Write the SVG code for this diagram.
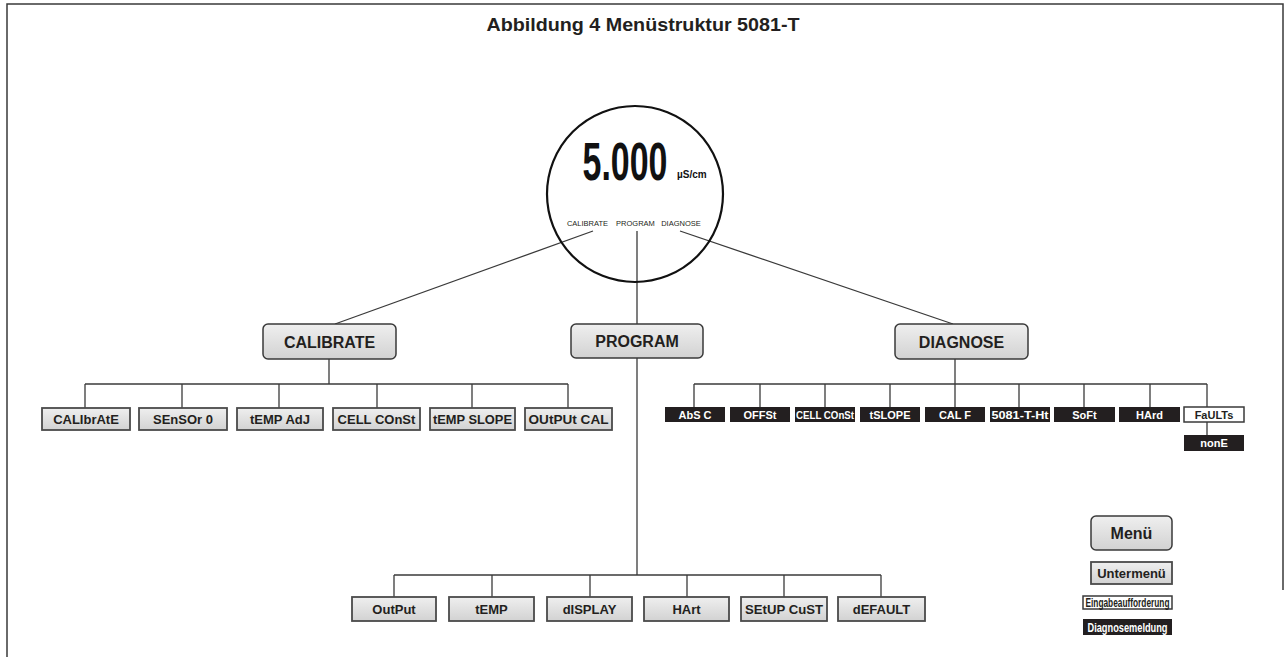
<svg xmlns="http://www.w3.org/2000/svg" width="1287" height="657" viewBox="0 0 1287 657">
<defs>
<linearGradient id="g" x1="0" y1="0" x2="0" y2="1">
<stop offset="0" stop-color="#efefef"/>
<stop offset="1" stop-color="#d2d2d2"/>
</linearGradient>
<style>
text{font-family:"Liberation Sans",Arial,sans-serif;font-weight:bold;fill:#231f20;text-anchor:middle}
.menu{fill:url(#g);stroke:#3a3a3a;stroke-width:1.5}
.mt{font-size:16px}
.sub{fill:url(#g);stroke:#4a4a4a;stroke-width:1.8}
.st{font-size:13px}
.dg{fill:#231f20;stroke:none}
.dt{font-size:11px;fill:#fff}
.pr{fill:#fff;stroke:#3a3a3a;stroke-width:1.5}
.pt{font-size:11px}
.ln{stroke:#3a3a3a;stroke-width:1.3;fill:none}
</style>
</defs>
<rect width="1287" height="657" fill="#fff"/>
<g id="frame" stroke="#3a3a3a" stroke-width="1.5" fill="none">
<path d="M7,657 V4 H1283 V590"/>
</g>
<text x="643" y="31" style="font-size:19px" textLength="313" lengthAdjust="spacingAndGlyphs">Abbildung 4 Menüstruktur 5081-T</text>

<g id="connectors" class="ln">
<line x1="593" y1="231" x2="335" y2="324"/>
<line x1="637" y1="231" x2="637" y2="324"/>
<line x1="680" y1="231" x2="953" y2="324"/>
<line x1="329" y1="359" x2="329" y2="384"/>
<line x1="85" y1="384" x2="568" y2="384"/>
<line x1="85" y1="384" x2="85" y2="408"/>
<line x1="182" y1="384" x2="182" y2="408"/>
<line x1="279" y1="384" x2="279" y2="408"/>
<line x1="377" y1="384" x2="377" y2="408"/>
<line x1="472" y1="384" x2="472" y2="408"/>
<line x1="568" y1="384" x2="568" y2="408"/>
<line x1="955" y1="359" x2="955" y2="384"/>
<line x1="694" y1="384" x2="1207" y2="384"/>
<line x1="694" y1="384" x2="694" y2="407"/>
<line x1="760" y1="384" x2="760" y2="407"/>
<line x1="825" y1="384" x2="825" y2="407"/>
<line x1="890" y1="384" x2="890" y2="407"/>
<line x1="955" y1="384" x2="955" y2="407"/>
<line x1="1019" y1="384" x2="1019" y2="407"/>
<line x1="1084" y1="384" x2="1084" y2="407"/>
<line x1="1150" y1="384" x2="1150" y2="407"/>
<line x1="1207" y1="384" x2="1207" y2="407"/>
<line x1="1207" y1="422" x2="1207" y2="435"/>
<line x1="637" y1="358" x2="637" y2="575"/>
<line x1="394" y1="575" x2="881" y2="575"/>
<line x1="394" y1="575" x2="394" y2="597"/>
<line x1="492" y1="575" x2="492" y2="597"/>
<line x1="590" y1="575" x2="590" y2="597"/>
<line x1="687" y1="575" x2="687" y2="597"/>
<line x1="784" y1="575" x2="784" y2="597"/>
<line x1="881" y1="575" x2="881" y2="597"/>
</g>

<g id="display">
<circle cx="635" cy="194" r="88" fill="none" stroke="#111" stroke-width="2.2"/>
<text transform="translate(625,180) scale(0.64,1)" x="0" y="0" style="font-size:53px;fill:#111">5.000</text>
<text x="677" y="178" style="font-size:10px;fill:#111;text-anchor:start">µS/cm</text>
<text x="587.5" y="226" style="font-size:7.5px;font-weight:normal">CALIBRATE</text>
<text x="635.5" y="226" style="font-size:7.5px;font-weight:normal">PROGRAM</text>
<text x="681" y="226" style="font-size:7.5px;font-weight:normal">DIAGNOSE</text>
</g>

<g id="calibrate"><rect class="menu" x="263" y="324" width="133" height="35" rx="5"/><text class="mt" x="329.5" y="347.5">CALIBRATE</text></g>
<g id="program"><rect class="menu" x="571" y="324" width="132" height="34" rx="5"/><text class="mt" x="637" y="347">PROGRAM</text></g>
<g id="diagnose"><rect class="menu" x="895" y="324" width="133" height="35" rx="5"/><text class="mt" x="961.5" y="347.5">DIAGNOSE</text></g>

<g id="cal-calibrate"><rect class="sub" x="42" y="408" width="88" height="22"/><text class="st" x="86" y="424">CALIbrAtE</text></g>
<g id="cal-sensor0"><rect class="sub" x="139" y="408" width="88" height="22"/><text class="st" x="183" y="424">SEnSOr 0</text></g>
<g id="cal-tempadj"><rect class="sub" x="237" y="408" width="86" height="22"/><text class="st" x="280" y="424">tEMP AdJ</text></g>
<g id="cal-cellconst"><rect class="sub" x="333" y="408" width="87" height="22"/><text class="st" x="376.5" y="424">CELL COnSt</text></g>
<g id="cal-tempslope"><rect class="sub" x="430" y="408" width="85" height="22"/><text class="st" x="472.5" y="424" textLength="79" lengthAdjust="spacingAndGlyphs">tEMP SLOPE</text></g>
<g id="cal-outputcal"><rect class="sub" x="525" y="408" width="87" height="22"/><text class="st" x="568.5" y="424" textLength="80" lengthAdjust="spacingAndGlyphs">OUtPUt CAL</text></g>

<g id="d-absc"><rect class="dg" x="665" y="407" width="60" height="15"/><text class="dt" x="695" y="418.5">AbS C</text></g>
<g id="d-offst"><rect class="dg" x="730" y="407" width="60" height="15"/><text class="dt" x="760" y="418.5">OFFSt</text></g>
<g id="d-cellconst"><rect class="dg" x="795" y="407" width="60" height="15"/><text class="dt" x="825" y="418.5" textLength="58" lengthAdjust="spacingAndGlyphs">CELL COnSt</text></g>
<g id="d-tslope"><rect class="dg" x="860" y="407" width="60" height="15"/><text class="dt" x="890" y="418.5">tSLOPE</text></g>
<g id="d-calf"><rect class="dg" x="925" y="407" width="60" height="15"/><text class="dt" x="955" y="418.5">CAL F</text></g>
<g id="d-5081"><rect class="dg" x="990" y="407" width="60" height="15"/><text class="dt" x="1020" y="418.5" textLength="57" lengthAdjust="spacingAndGlyphs">5081-T-Ht</text></g>
<g id="d-soft"><rect class="dg" x="1054" y="407" width="61" height="15"/><text class="dt" x="1084.5" y="418.5">SoFt</text></g>
<g id="d-hard"><rect class="dg" x="1119" y="407" width="61" height="15"/><text class="dt" x="1149.5" y="418.5">HArd</text></g>
<g id="d-faults"><rect class="pr" x="1184" y="407" width="60" height="15"/><text class="pt" x="1214" y="418.5">FaULTs</text></g>
<g id="d-none"><rect class="dg" x="1184" y="435" width="60" height="16"/><text class="dt" x="1214" y="447">nonE</text></g>

<g id="p-output"><rect class="sub" x="352" y="597" width="84" height="24"/><text class="st" x="394" y="614">OutPut</text></g>
<g id="p-temp"><rect class="sub" x="449" y="597" width="85" height="24"/><text class="st" x="491.5" y="614">tEMP</text></g>
<g id="p-display"><rect class="sub" x="547" y="597" width="85" height="24"/><text class="st" x="589.5" y="614">dISPLAY</text></g>
<g id="p-hart"><rect class="sub" x="644" y="597" width="85" height="24"/><text class="st" x="686.5" y="614">HArt</text></g>
<g id="p-setup"><rect class="sub" x="741" y="597" width="86" height="24"/><text class="st" x="784" y="614" textLength="78" lengthAdjust="spacingAndGlyphs">SEtUP CuST</text></g>
<g id="p-default"><rect class="sub" x="838" y="597" width="87" height="24"/><text class="st" x="881.5" y="614">dEFAULT</text></g>

<g id="legend-menu"><rect class="menu" x="1091" y="516" width="81" height="34" rx="5"/><text class="mt" x="1131.5" y="539">Menü</text></g>
<g id="legend-sub"><rect class="sub" x="1091" y="562" width="81" height="22"/><text class="st" x="1131.5" y="578">Untermenü</text></g>
<g id="legend-prompt"><rect class="pr" x="1083" y="596" width="89" height="13"/><text x="1127.5" y="607" style="font-size:12px" textLength="84" lengthAdjust="spacingAndGlyphs">Eingabeaufforderung</text></g>
<g id="legend-diag"><rect class="dg" x="1083" y="619" width="89" height="16"/><text class="dt" x="1127.5" y="631.5" style="font-size:12px" textLength="80" lengthAdjust="spacingAndGlyphs">Diagnosemeldung</text></g>
</svg>
